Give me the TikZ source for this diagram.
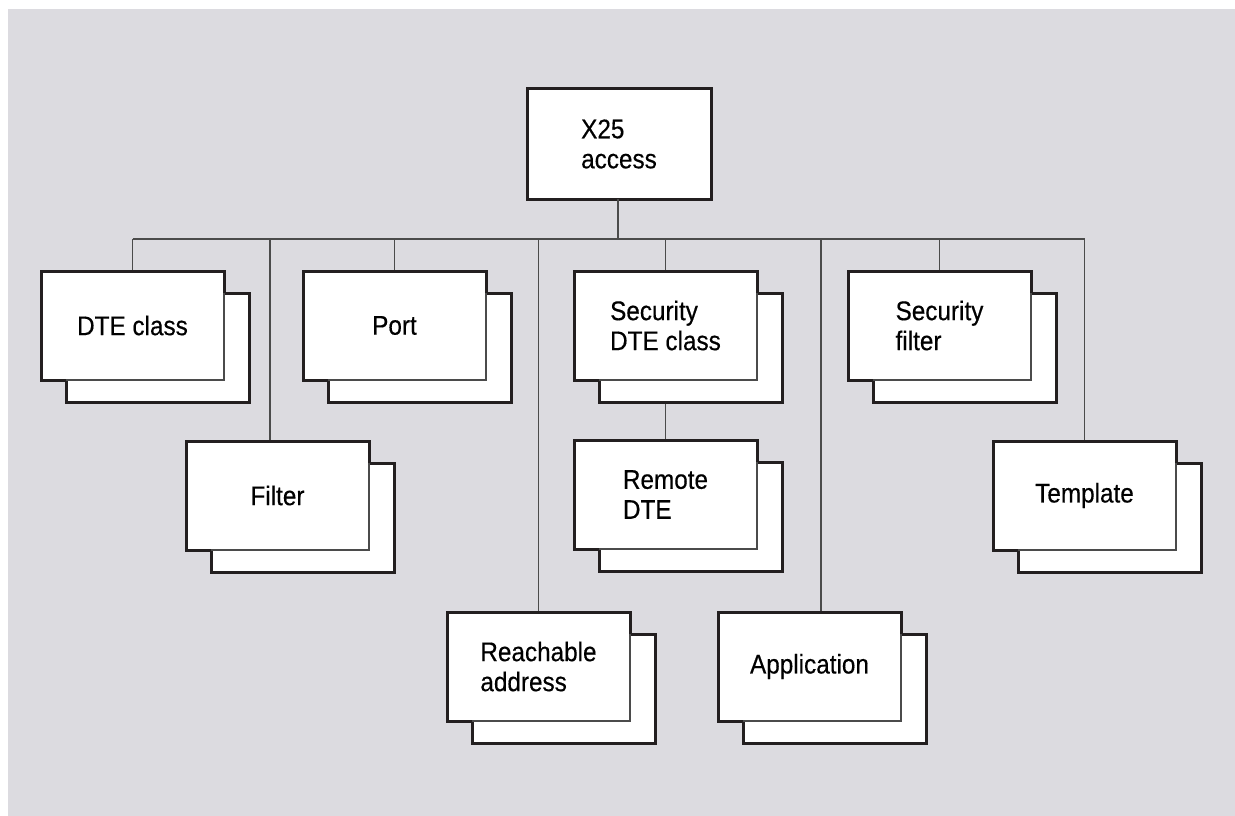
\documentclass[tikz,border=0pt]{standalone}
\usepackage{fontspec}
\setmainfont{Liberation Sans}[FakeStretch=0.9,FakeBold=0.4]
\usetikzlibrary{calc}
\definecolor{bg}{RGB}{220,219,224}
\definecolor{thinc}{RGB}{75,75,75}
\definecolor{thickc}{RGB}{35,31,32}
\tikzset{
  frontbox/.style={rectangle, fill=white, minimum width=183pt, minimum height=109pt,
    inner sep=0pt, outer sep=0pt, align=left, font=\fontsize{27}{30}\selectfont, text=black},
  outline/.style={draw=thickc, line width=3pt, line join=miter},
  thinedge/.style={draw=thinc, line width=1.2pt},
  wire/.style={draw=thinc, line width=1.2pt},
}
\newcommand\stackbox[4]{%
  \fill[white] (#2+25,#3+22) rectangle (#2+208,#3+131);
  \node[frontbox] (#1) at (#2+91.5,#3+54.5) {#4};
  \draw[outline] (#1.north west) -- (#1.north east) -- ++(0,22) -- ++(25,0)
     -- ++(0,109) -- ++(-183,0) -- ++(0,-22) -- (#1.south west) -- cycle;
  \draw[thinedge] ($(#1.north east)+(0,22)$) -- (#1.south east) -- ($(#1.south west)+(25,0)$);
}
\begin{document}
\begin{tikzpicture}[x=1pt,y=-1pt]
\useasboundingbox (0,0) rectangle (1235,816);
\fill[bg] (8,9) rectangle (1235,816);

\node[frontbox, minimum width=184pt, minimum height=110pt, draw=thickc, line width=3pt] (x25) at (619,144) {X25\\access};

\stackbox{dte}{41}{271}{DTE class}
\stackbox{port}{303}{271}{Port}
\stackbox{sdte}{574}{271}{Security\\DTE class}
\stackbox{sfilt}{848}{271}{Security\\filter}
\stackbox{filt}{186}{441}{Filter}
\stackbox{rdte}{574}{440}{Remote\\DTE}
\stackbox{tpl}{993}{441}{Template}
\stackbox{reach}{447}{612}{Reachable\\address}
\stackbox{app}{718}{612}{Application}

\coordinate (b0) at (618,239);
\coordinate (fx) at (270,239);
\coordinate (ax) at (821,239);
\draw[wire] (x25.south -| b0) -- (b0);
\draw[wire] (dte.north |- b0) -- (tpl.north |- b0);
\draw[wire, shorten >=1.5pt] (dte.north |- b0) -- (dte.north);
\draw[wire, shorten >=1.5pt] (port.north |- b0) -- (port.north);
\draw[wire, shorten >=1.5pt] (sdte.north |- b0) -- (sdte.north);
\draw[wire, shorten >=1.5pt] (sfilt.north |- b0) -- (sfilt.north);
\draw[wire, shorten >=1.5pt] (tpl.north |- b0) -- (tpl.north);
\draw[wire, shorten >=1.5pt] (reach.north |- b0) -- (reach.north);
\draw[wire, shorten >=1.5pt] (fx) -- (fx |- filt.north);
\draw[wire, shorten >=1.5pt] (ax) -- (ax |- app.north);
\draw[wire, shorten <=1.5pt, shorten >=1.5pt] ($(sdte.south)+(0,22)$) -- (rdte.north);
\end{tikzpicture}
\end{document}
